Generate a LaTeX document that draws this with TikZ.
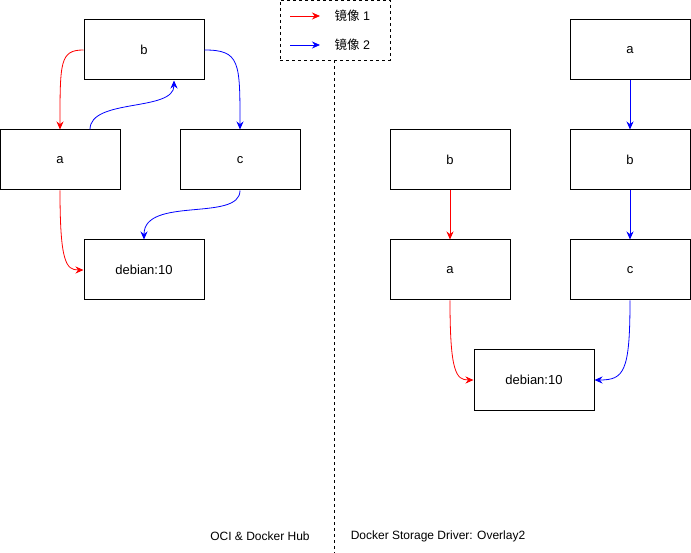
\documentclass[tikz,border=0pt]{standalone}
\usepackage{fontspec}
\setmainfont{Liberation Sans}
\newfontfamily\cjkfont{Noto Sans CJK SC}
\usetikzlibrary{arrows.meta,positioning}
\tikzset{
  layerbox/.style={draw, line width=1pt, minimum width=120pt, minimum height=60pt, inner sep=0pt, font=\fontsize{13}{15}\selectfont},
  redarrow/.style={draw=red, line width=0.8pt, -{Stealth[length=8pt,width=7pt]}},
  bluearrow/.style={draw=blue, line width=0.8pt, -{Stealth[length=8pt,width=7pt]}},
  legendbox/.style={draw, dashed, line width=0.8pt, minimum width=110pt, minimum height=60pt, inner sep=0pt},
  captiontext/.style={font=\fontsize{12}{14}\selectfont}
}
\begin{document}
\begin{tikzpicture}[x=1pt, y=-1pt]
\useasboundingbox (0,0) rectangle (691,553);
% legend and separator
\node[legendbox] (legend) at (335,30) {};
\coordinate (sepbot) at (334,553);
\draw[dashed, line width=0.8pt] (legend.south -| sepbot) -- (sepbot);
\coordinate (lgr0) at (290,16);
\coordinate (lgr1) at (320,16);
\coordinate (lgb0) at (290,45);
\coordinate (lgb1) at (320,45);
\draw[redarrow] (lgr0) -- (lgr1);
\draw[bluearrow] (lgb0) -- (lgb1);
\node[anchor=west, font=\fontsize{12.5}{14}\selectfont] (lgrtext) at (331,16) {{\cjkfont 镜像} 1};
\node[anchor=west, font=\fontsize{12.5}{14}\selectfont] (lgbtext) at (331,45) {{\cjkfont 镜像} 2};

% left panel: OCI & Docker Hub
\node[layerbox] (lb) at (144,50) {b};
\node[layerbox] (la) at (60,160) {a};
\node[layerbox] (lc) at (240,160) {c};
\node[layerbox] (ldeb) at (144,270) {debian:10};
\draw[redarrow] (lb.west) .. controls (60,50) and (60,62) .. (la.north);
\draw[redarrow] (la.south) .. controls (60,262) and (66,270) .. (ldeb.west);
\draw[bluearrow] ([xshift=30pt]la.north) .. controls (90,98) and (174,112) .. ([xshift=30pt]lb.south);
\draw[bluearrow] (lb.east) .. controls (240,50) and (240,62) .. (lc.north);
\draw[bluearrow] (lc.south) .. controls (240,222) and (144,196) .. (ldeb.north);
\node[captiontext] (lcap) at (260,536) {OCI \& Docker Hub};

% right panel: Docker Storage Driver
\node[layerbox] (rtopa) at (630,50) {a};
\node[layerbox] (rleftb) at (450,160) {b};
\node[layerbox] (rrightb) at (630,160) {b};
\node[layerbox] (rlefta) at (450,270) {a};
\node[layerbox] (rc) at (630,270) {c};
\node[layerbox] (rdeb) at (534,380) {debian:10};
\draw[bluearrow] (rtopa) -- (rrightb);
\draw[bluearrow] (rrightb) -- (rc);
\draw[redarrow] (rleftb) -- (rlefta);
\draw[redarrow] (rlefta.south) .. controls (450,372) and (456,380) .. (rdeb.west);
\draw[bluearrow] (rc.south) .. controls (630,372) and (624,380) .. (rdeb.east);
\node[captiontext] (rcap) at (438,536) {Docker Storage Driver: Overlay2};
\end{tikzpicture}
\end{document}
